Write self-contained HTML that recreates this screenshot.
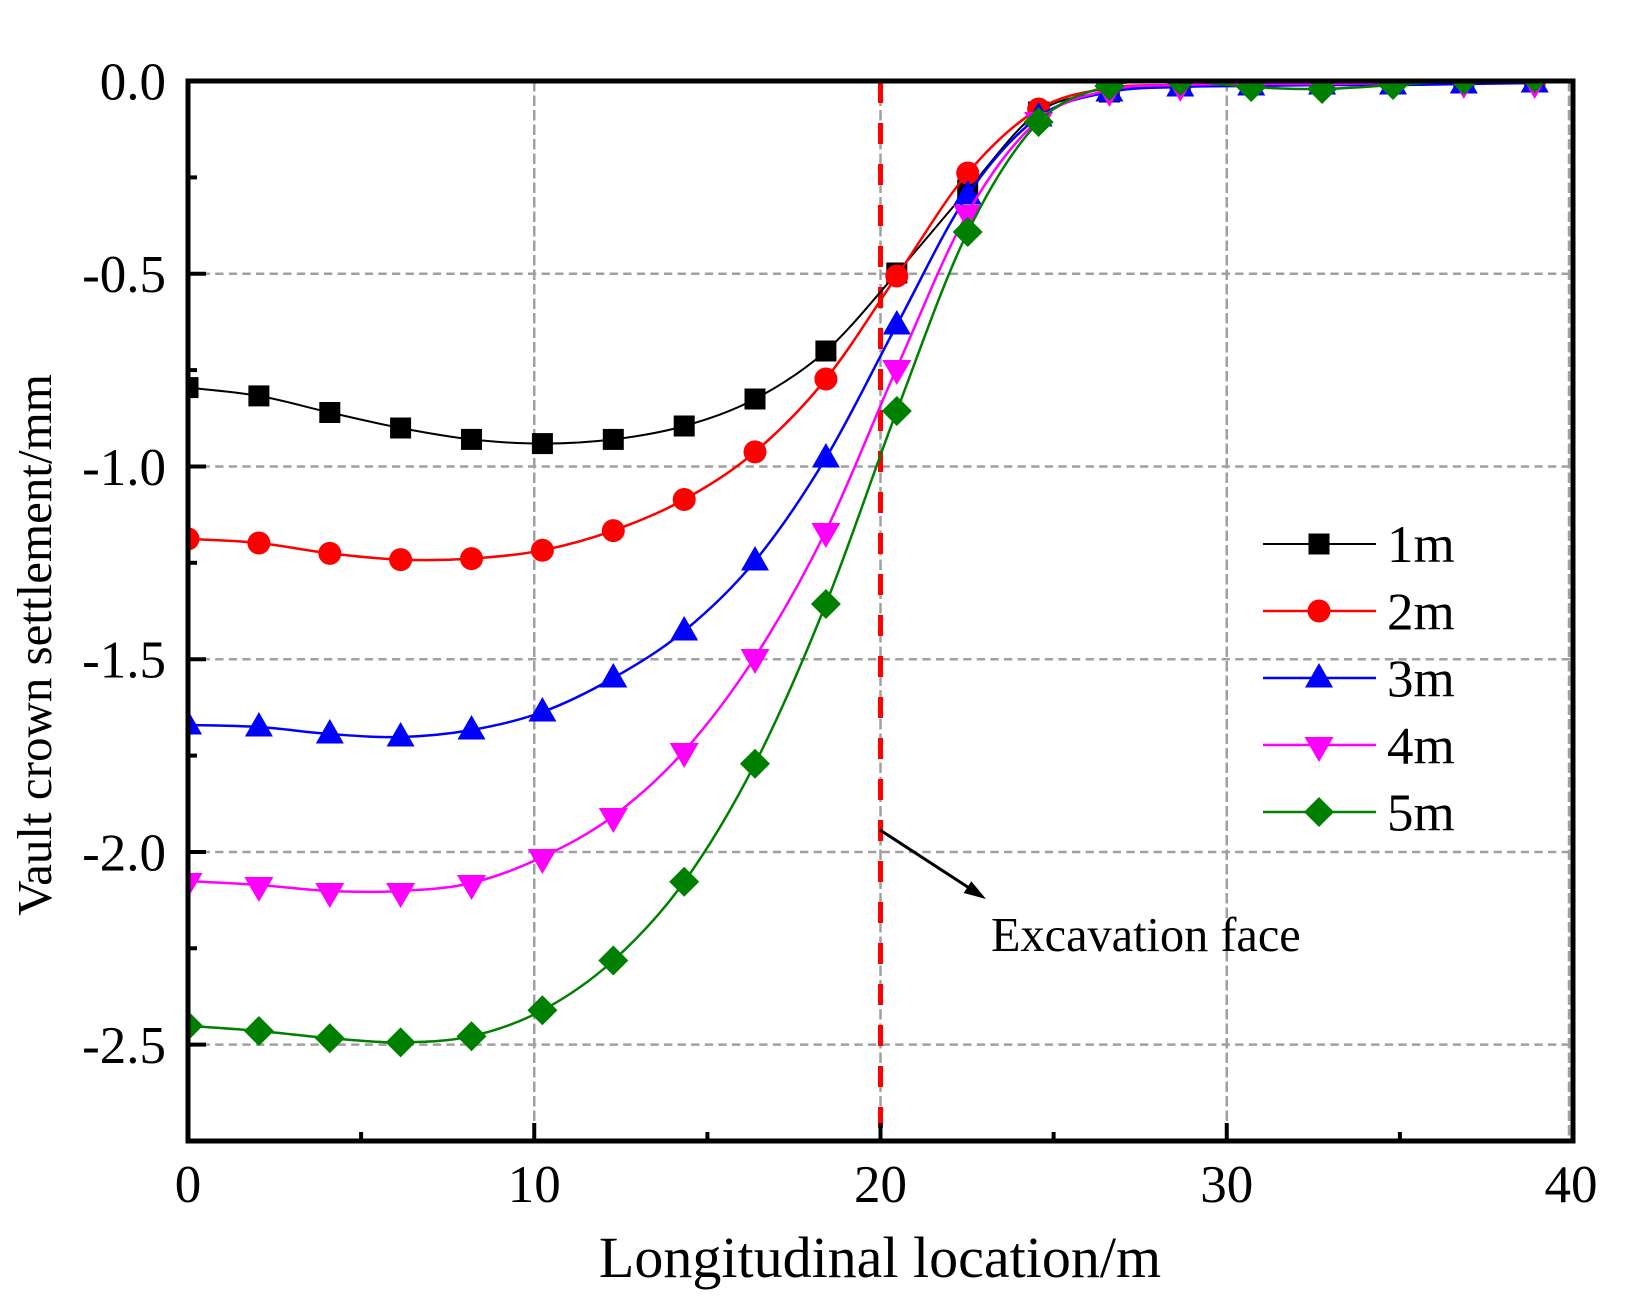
<!DOCTYPE html>
<html>
<head>
<meta charset="utf-8">
<style>
html,body{margin:0;padding:0;background:#fff;}
svg{display:block;}
text{font-family:"Liberation Serif","Times New Roman",serif;fill:#000;}
</style>
</head>
<body>
<svg width="1627" height="1309" viewBox="0 0 1627 1309" xmlns="http://www.w3.org/2000/svg">
<defs>
  <clipPath id="plot"><rect x="188" y="81" width="1385" height="1060"/></clipPath>
  <rect id="sq" x="-10.5" y="-10.5" width="21" height="21" fill="#000"/>
  <circle id="ci" cx="0" cy="0" r="11.5" fill="#ff0000"/>
  <polygon id="tu" points="0,-15 14,9.5 -14,9.5" fill="#0000ff"/>
  <polygon id="td" points="-14.5,-8 14.5,-8 0,17" fill="#ff00ff"/>
  <polygon id="di" points="0,-15 15,0 0,15 -15,0" fill="#008000"/>
</defs>
<rect x="0" y="0" width="1627" height="1309" fill="#fff"/>

<!-- grid -->
<g stroke="#a0a0a0" stroke-width="2.5" fill="none">
  <g stroke-dasharray="8.3 5.3">
    <line x1="188" y1="273.7" x2="1573" y2="273.7"/>
    <line x1="188" y1="466.5" x2="1573" y2="466.5"/>
    <line x1="188" y1="659.2" x2="1573" y2="659.2"/>
    <line x1="188" y1="852" x2="1573" y2="852"/>
    <line x1="188" y1="1044.6" x2="1573" y2="1044.6"/>
  </g>
  <g stroke-dasharray="10.5 4">
    <line x1="534.25" y1="81" x2="534.25" y2="1141"/>
    <line x1="880.5" y1="81" x2="880.5" y2="1141"/>
    <line x1="1226.75" y1="81" x2="1226.75" y2="1141"/>
    <line x1="1569" y1="81" x2="1569" y2="1141"/>
  </g>
</g>

<!-- excavation face line -->
<line x1="880.5" y1="82" x2="880.5" y2="1141" stroke="#ff0000" stroke-width="5" stroke-dasharray="21 20"/>

<!-- series -->
<g clip-path="url(#plot)">
  <polyline class="sp" fill="none" stroke="#000" stroke-width="2" points="188,387.6 258.9,395.9 329.8,412.5 400.6,428 471.5,439.4 542.4,443.6 613.3,439.4 684.2,426 755,399 825.9,351 896.8,273 967.7,190 1038.6,112 1109.4,92 1180.3,84 1251.2,83 1322.1,83 1393,82 1463.8,82 1534.7,82"/>
  <use href="#sq" x="188" y="387.6"/><use href="#sq" x="258.9" y="395.9"/><use href="#sq" x="329.8" y="412.5"/><use href="#sq" x="400.6" y="428"/><use href="#sq" x="471.5" y="439.4"/><use href="#sq" x="542.4" y="443.6"/><use href="#sq" x="613.3" y="439.4"/><use href="#sq" x="684.2" y="426"/><use href="#sq" x="755" y="399"/><use href="#sq" x="825.9" y="351"/><use href="#sq" x="896.8" y="273"/><use href="#sq" x="967.7" y="190"/><use href="#sq" x="1038.6" y="112"/><use href="#sq" x="1109.4" y="92"/><use href="#sq" x="1180.3" y="84"/><use href="#sq" x="1251.2" y="83"/><use href="#sq" x="1322.1" y="83"/><use href="#sq" x="1393" y="82"/><use href="#sq" x="1463.8" y="82"/><use href="#sq" x="1534.7" y="82"/>

  <polyline class="sp" fill="none" stroke="#ff0000" stroke-width="2.5" points="188,538.9 258.9,543 329.8,553.4 400.6,559.6 471.5,558.6 542.4,550.3 613.3,530.6 684.2,499.5 755,451.9 825.9,379 896.8,276 967.7,173 1038.6,109 1109.4,88 1180.3,85 1251.2,83 1322.1,82 1393,82 1463.8,81 1534.7,81"/>
  <use href="#ci" x="188" y="538.9"/><use href="#ci" x="258.9" y="543"/><use href="#ci" x="329.8" y="553.4"/><use href="#ci" x="400.6" y="559.6"/><use href="#ci" x="471.5" y="558.6"/><use href="#ci" x="542.4" y="550.3"/><use href="#ci" x="613.3" y="530.6"/><use href="#ci" x="684.2" y="499.5"/><use href="#ci" x="755" y="451.9"/><use href="#ci" x="825.9" y="379"/><use href="#ci" x="896.8" y="276"/><use href="#ci" x="967.7" y="173"/><use href="#ci" x="1038.6" y="109"/><use href="#ci" x="1109.4" y="88"/><use href="#ci" x="1180.3" y="85"/><use href="#ci" x="1251.2" y="83"/><use href="#ci" x="1322.1" y="82"/><use href="#ci" x="1393" y="82"/><use href="#ci" x="1463.8" y="81"/><use href="#ci" x="1534.7" y="81"/>

  <polyline class="sp" fill="none" stroke="#0000ff" stroke-width="2.5" points="188,725 258.9,727 329.8,734 400.6,737 471.5,730 542.4,712 613.3,678 684.2,631 755,561 825.9,458 896.8,325 967.7,195 1038.6,117 1109.4,92 1180.3,87 1251.2,86 1322.1,85 1393,85 1463.8,84 1534.7,83"/>
  <use href="#tu" x="188" y="725"/><use href="#tu" x="258.9" y="727"/><use href="#tu" x="329.8" y="734"/><use href="#tu" x="400.6" y="737"/><use href="#tu" x="471.5" y="730"/><use href="#tu" x="542.4" y="712"/><use href="#tu" x="613.3" y="678"/><use href="#tu" x="684.2" y="631"/><use href="#tu" x="755" y="561"/><use href="#tu" x="825.9" y="458"/><use href="#tu" x="896.8" y="325"/><use href="#tu" x="967.7" y="195"/><use href="#tu" x="1038.6" y="117"/><use href="#tu" x="1109.4" y="92"/><use href="#tu" x="1180.3" y="87"/><use href="#tu" x="1251.2" y="86"/><use href="#tu" x="1322.1" y="85"/><use href="#tu" x="1393" y="85"/><use href="#tu" x="1463.8" y="84"/><use href="#tu" x="1534.7" y="83"/>

  <polyline class="sp" fill="none" stroke="#ff00ff" stroke-width="2.5" points="188,881 258.9,885 329.8,891 400.6,891 471.5,883 542.4,857 613.3,816 684.2,751 755,657 825.9,531 896.8,368 967.7,213 1038.6,120 1109.4,90 1180.3,85 1251.2,84 1322.1,84 1393,83 1463.8,82 1534.7,82"/>
  <use href="#td" x="188" y="881"/><use href="#td" x="258.9" y="885"/><use href="#td" x="329.8" y="891"/><use href="#td" x="400.6" y="891"/><use href="#td" x="471.5" y="883"/><use href="#td" x="542.4" y="857"/><use href="#td" x="613.3" y="816"/><use href="#td" x="684.2" y="751"/><use href="#td" x="755" y="657"/><use href="#td" x="825.9" y="531"/><use href="#td" x="896.8" y="368"/><use href="#td" x="967.7" y="213"/><use href="#td" x="1038.6" y="120"/><use href="#td" x="1109.4" y="90"/><use href="#td" x="1180.3" y="85"/><use href="#td" x="1251.2" y="84"/><use href="#td" x="1322.1" y="84"/><use href="#td" x="1393" y="83"/><use href="#td" x="1463.8" y="82"/><use href="#td" x="1534.7" y="82"/>

  <polyline class="sp" fill="none" stroke="#008000" stroke-width="2.5" points="188,1025.8 258.9,1031 329.8,1038.2 400.6,1042.4 471.5,1036.2 542.4,1010.3 613.3,960.5 684.2,881.8 755,763.7 825.9,604 896.8,411 967.7,232 1038.6,122 1109.4,86 1180.3,81 1251.2,87 1322.1,89 1393,85 1463.8,80 1534.7,78"/>
  <use href="#di" x="188" y="1025.8"/><use href="#di" x="258.9" y="1031"/><use href="#di" x="329.8" y="1038.2"/><use href="#di" x="400.6" y="1042.4"/><use href="#di" x="471.5" y="1036.2"/><use href="#di" x="542.4" y="1010.3"/><use href="#di" x="613.3" y="960.5"/><use href="#di" x="684.2" y="881.8"/><use href="#di" x="755" y="763.7"/><use href="#di" x="825.9" y="604"/><use href="#di" x="896.8" y="411"/><use href="#di" x="967.7" y="232"/><use href="#di" x="1038.6" y="122"/><use href="#di" x="1109.4" y="86"/><use href="#di" x="1180.3" y="81"/><use href="#di" x="1251.2" y="87"/><use href="#di" x="1322.1" y="89"/><use href="#di" x="1393" y="85"/><use href="#di" x="1463.8" y="80"/><use href="#di" x="1534.7" y="78"/>
</g>

<!-- axes frame -->
<rect x="188" y="81" width="1385" height="1060" fill="none" stroke="#000" stroke-width="5"/>

<!-- ticks -->
<g stroke="#000" stroke-width="4">
  <line x1="188" y1="273.7" x2="206" y2="273.7"/>
  <line x1="188" y1="466.5" x2="206" y2="466.5"/>
  <line x1="188" y1="659.2" x2="206" y2="659.2"/>
  <line x1="188" y1="852" x2="206" y2="852"/>
  <line x1="188" y1="1044.6" x2="206" y2="1044.6"/>
  <line x1="188" y1="177.4" x2="197" y2="177.4"/>
  <line x1="188" y1="370.1" x2="197" y2="370.1"/>
  <line x1="188" y1="562.8" x2="197" y2="562.8"/>
  <line x1="188" y1="755.6" x2="197" y2="755.6"/>
  <line x1="188" y1="948.3" x2="197" y2="948.3"/>
  <line x1="534.25" y1="1141" x2="534.25" y2="1123"/>
  <line x1="880.5" y1="1141" x2="880.5" y2="1123"/>
  <line x1="1226.75" y1="1141" x2="1226.75" y2="1123"/>
  <line x1="361.1" y1="1141" x2="361.1" y2="1132"/>
  <line x1="707.4" y1="1141" x2="707.4" y2="1132"/>
  <line x1="1053.6" y1="1141" x2="1053.6" y2="1132"/>
  <line x1="1399.9" y1="1141" x2="1399.9" y2="1132"/>
</g>

<!-- y tick labels -->
<g font-size="53" text-anchor="end">
  <text x="166" y="99.5">0.0</text>
  <text x="166" y="292.2">-0.5</text>
  <text x="166" y="485">-1.0</text>
  <text x="166" y="677.7">-1.5</text>
  <text x="166" y="870.5">-2.0</text>
  <text x="166" y="1063.1">-2.5</text>
</g>

<!-- x tick labels -->
<g font-size="53" text-anchor="middle">
  <text x="188" y="1202">0</text>
  <text x="534.25" y="1202">10</text>
  <text x="880.5" y="1202">20</text>
  <text x="1226.75" y="1202">30</text>
  <text x="1571" y="1202">40</text>
</g>

<!-- axis titles -->
<text x="880" y="1277" font-size="58" text-anchor="middle">Longitudinal location/m</text>
<text transform="translate(51,645) rotate(-90)" font-size="49" text-anchor="middle">Vault crown settlement/mm</text>

<!-- annotation -->
<line x1="880" y1="830" x2="970" y2="888.5" stroke="#000" stroke-width="3"/>
<polygon points="986,899 963.7,893 971.3,881.2" fill="#000"/>
<text x="991" y="951" font-size="48.3">Excavation face</text>

<!-- legend -->
<g>
  <line x1="1263" y1="544" x2="1376" y2="544" stroke="#000" stroke-width="2"/>
  <use href="#sq" x="1319" y="544"/>
  <text x="1387" y="562" font-size="53">1m</text>

  <line x1="1263" y1="611" x2="1376" y2="611" stroke="#ff0000" stroke-width="2.5"/>
  <use href="#ci" x="1319" y="611"/>
  <text x="1387" y="629.5" font-size="53">2m</text>

  <line x1="1263" y1="678" x2="1376" y2="678" stroke="#0000ff" stroke-width="2.5"/>
  <use href="#tu" x="1319" y="678"/>
  <text x="1387" y="696.5" font-size="53">3m</text>

  <line x1="1263" y1="745" x2="1376" y2="745" stroke="#ff00ff" stroke-width="2.5"/>
  <use href="#td" x="1319" y="745"/>
  <text x="1387" y="763.5" font-size="53">4m</text>

  <line x1="1263" y1="812" x2="1376" y2="812" stroke="#008000" stroke-width="2.5"/>
  <use href="#di" x="1319" y="812"/>
  <text x="1387" y="830.5" font-size="53">5m</text>
</g>
</svg>
<script>
// Smooth series lines (Catmull-Rom spline) to mimic spline connection; falls back to polylines if not run.
(function(){
  var pls = document.querySelectorAll('polyline.sp');
  for (var k=0;k<pls.length;k++){
    var pl = pls[k];
    var pts = pl.getAttribute('points').trim().split(/\s+/).map(function(s){var a=s.split(',');return [parseFloat(a[0]),parseFloat(a[1])];});
    var d = 'M'+pts[0][0]+','+pts[0][1];
    for (var i=0;i<pts.length-1;i++){
      var p0 = pts[i>0?i-1:i], p1=pts[i], p2=pts[i+1], p3=pts[i+2<pts.length?i+2:i+1];
      var c1x = p1[0]+(p2[0]-p0[0])/6, c1y = p1[1]+(p2[1]-p0[1])/6;
      var c2x = p2[0]-(p3[0]-p1[0])/6, c2y = p2[1]-(p3[1]-p1[1])/6;
      d += ' C'+c1x.toFixed(2)+','+c1y.toFixed(2)+' '+c2x.toFixed(2)+','+c2y.toFixed(2)+' '+p2[0]+','+p2[1];
    }
    var path = document.createElementNS('http://www.w3.org/2000/svg','path');
    path.setAttribute('d',d);
    path.setAttribute('fill','none');
    path.setAttribute('stroke',pl.getAttribute('stroke'));
    path.setAttribute('stroke-width',pl.getAttribute('stroke-width'));
    pl.parentNode.replaceChild(path,pl);
  }
})();
</script>
</body>
</html>
